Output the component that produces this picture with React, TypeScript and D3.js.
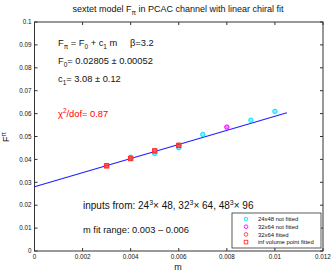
import React from "react";
import * as d3 from "d3";

const W = 335;
const H = 273;

const xTicks = [0, 0.002, 0.004, 0.006, 0.008, 0.01, 0.012];
const yTicks = [0, 0.01, 0.02, 0.03, 0.04, 0.05, 0.06, 0.07, 0.08, 0.09, 0.1];

// 24x48 not fitted (cyan)
const m24 = [0.004, 0.005, 0.006, 0.007, 0.009, 0.01];
const f24 = [0.0409, 0.0426, 0.0451, 0.0509, 0.0571, 0.0610];
// 32x64 not fitted (magenta)
const m32nf = [0.008];
const f32nf = [0.0541];
// 32x64 fitted (red circles)
const m32f = [0.003, 0.004, 0.005, 0.006];
const f32f = [0.0373, 0.0405, 0.0438, 0.0462];
// inf volume point fitted (red squares)
const mInf = [0.003, 0.004, 0.005, 0.006];
const fInf = [0.0372, 0.0404, 0.0437, 0.0461];

const F0 = 0.02805;
const C1 = 3.08;
const fitRange = [0, 0.0105];

const legendLabels = ["24x48 not fitted", "32x64 not fitted", "32x64 fitted", "inf volume point fitted"];
const legendColors = ["#00e5ff", "#ff00ff", "#ff3333", "#ff3333"];

export default function App() {
  const left = 34.5, right = 323, top = 22, bottom = 251;
  const x = d3.scaleLinear().domain([0, 0.012]).range([left, right]);
  const y = d3.scaleLinear().domain([0, 0.1]).range([bottom, top]);
  const font = "'Liberation Sans', Arial, Helvetica, sans-serif";
  const axisColor = "#333";
  const txt = "#111";
  const line = d3.line<number>().x((m) => x(m)).y((m) => y(F0 + C1 * m));

  const circles = (ms: number[], fs: number[], color: string, key: string) =>
    ms.map((m, i) => (
      <circle key={key + i} cx={x(m)} cy={y(fs[i])} r={2.2} fill={color} fillOpacity={0.5} stroke={color} strokeWidth={1} />
    ));
  const squares = (ms: number[], fs: number[], color: string, key: string) =>
    ms.map((m, i) => (
      <rect key={key + i} x={x(m) - 2.2} y={y(fs[i]) - 2.2} width={4.4} height={4.4} fill={color} fillOpacity={0.45} stroke={color} strokeWidth={1} />
    ));

  const lgX = 232, lgY = 213, lgW = 89, lgH = 35;

  return (
    <svg width={W} height={H} style={{ position: "absolute", left: 0, top: 0, background: "#fff" }} fontFamily={font}>
      <rect x={0} y={0} width={W} height={H} fill="#fff" />
      {/* title */}
      <text x={178} y={12} fontSize={9} textAnchor="middle" fill={txt}>
        sextet model F<tspan fontSize={6.5} dy={3}>π</tspan><tspan dy={-3}> in PCAC channel with linear chiral fit</tspan>
      </text>

      {/* axes box */}
      <rect x={left} y={top} width={right - left} height={bottom - top} fill="none" stroke={axisColor} strokeWidth={1} />
      {xTicks.map((t, i) => (
        <g key={"xt" + i}>
          <line x1={x(t)} x2={x(t)} y1={bottom} y2={bottom - 3} stroke={axisColor} />
          <line x1={x(t)} x2={x(t)} y1={top} y2={top + 3} stroke={axisColor} />
          <text x={x(t)} y={bottom + 8} fontSize={6.3} textAnchor="middle" fill={txt}>{String(t)}</text>
        </g>
      ))}
      {yTicks.map((t, i) => (
        <g key={"yt" + i}>
          <line x1={left} x2={left + 3} y1={y(t)} y2={y(t)} stroke={axisColor} />
          <line x1={right} x2={right - 3} y1={y(t)} y2={y(t)} stroke={axisColor} />
          <text x={left - 3} y={y(t) + 2.2} fontSize={6.3} textAnchor="end" fill={txt}>{String(t)}</text>
        </g>
      ))}
      <text x={178} y={269.5} fontSize={9} textAnchor="middle" fill={txt}>m</text>
      <text transform={`translate(9,137) rotate(-90)`} fontSize={9} textAnchor="middle" fill={txt}>
        F<tspan fontSize={6.5} dy={-3}>π</tspan>
      </text>

      {/* fit line */}
      <path d={line(fitRange) || ""} stroke="#2020ff" strokeWidth={1.2} fill="none" />

      {/* data */}
      {circles(m24, f24, "#00e5ff", "c24")}
      {circles(m32nf, f32nf, "#ff00ff", "c32nf")}
      {circles(m32f, f32f, "#ff4040", "c32f")}
      {squares(mInf, fInf, "#ff3030", "sq")}

      {/* annotations */}
      <text x={58} y={46} fontSize={9.3} fill={txt}>
        F<tspan fontSize={6.5} dy={3}>π</tspan><tspan dy={-3}> = F</tspan><tspan fontSize={6.5} dy={3}>0</tspan><tspan dy={-3}> + c</tspan><tspan fontSize={6.5} dy={3}>1</tspan><tspan dy={-3}> m</tspan>
      </text>
      <text x={130} y={46} fontSize={9.3} fill={txt}>β=3.2</text>
      <text x={58} y={64} fontSize={9.3} fill={txt}>
        F<tspan fontSize={6.5} dy={3}>0</tspan><tspan dy={-3}>=  0.02805 ± 0.00052</tspan>
      </text>
      <text x={58} y={82} fontSize={9.3} fill={txt}>
        c<tspan fontSize={6.5} dy={3}>1</tspan><tspan dy={-3}>=  3.08 ± 0.12</tspan>
      </text>
      <text x={58} y={117} fontSize={9.3} fill="#ff0000">
        χ<tspan fontSize={6.5} dy={-4}>2</tspan><tspan dy={4}>/dof= 0.87</tspan>
      </text>
      <text x={83} y={209} fontSize={10} fill={txt}>
        inputs from: 24<tspan fontSize={7} dy={-4}>3</tspan><tspan dy={4}>× 48, 32</tspan><tspan fontSize={7} dy={-4}>3</tspan><tspan dy={4}>× 64, 48</tspan><tspan fontSize={7} dy={-4}>3</tspan><tspan dy={4}>× 96</tspan>
      </text>
      <text x={83} y={233} fontSize={9.3} fill={txt}>m fit range:  0.003 – 0.006</text>

      {/* legend */}
      <rect x={lgX} y={lgY} width={lgW} height={lgH} fill="#fff" stroke={axisColor} strokeWidth={0.8} />
      {legendLabels.map((lab, i) => {
        const cy = lgY + 6 + i * 7.7;
        return (
          <g key={"lg" + i}>
            {i < 3 ? (
              <circle cx={lgX + 14} cy={cy} r={1.8} fill="none" stroke={legendColors[i]} strokeWidth={0.9} />
            ) : (
              <rect x={lgX + 12.2} y={cy - 1.8} width={3.6} height={3.6} fill="none" stroke={legendColors[i]} strokeWidth={0.9} />
            )}
            <text x={lgX + 26} y={cy + 2.1} fontSize={5.9} fill={txt}>{lab}</text>
          </g>
        );
      })}
    </svg>
  );
}
